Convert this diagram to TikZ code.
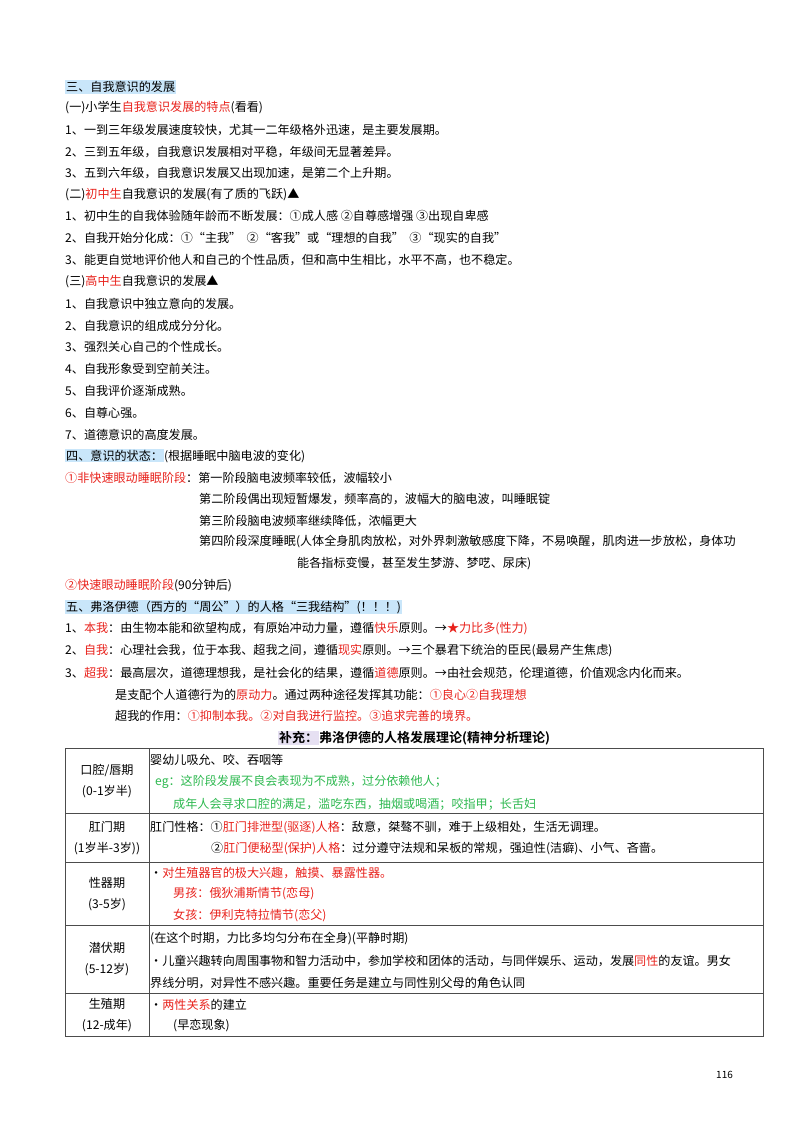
\documentclass[tikz,border=0pt]{standalone}
\usepackage{fontspec}
\setmainfont{Noto Sans CJK SC}
\newfontfamily\cjkb{Noto Sans CJK SC Bold}
\definecolor{hired}{HTML}{E8211B}
\definecolor{higreen}{HTML}{2DB84F}
\definecolor{hiblue}{HTML}{C9E6FA}
\definecolor{hipurple}{HTML}{E6E0F2}
\newcommand{\rd}[1]{\textcolor{hired}{#1}}
\newcommand{\hb}[1]{\colorbox{hiblue}{#1}}
\begin{document}
\begin{tikzpicture}[x=1pt,y=-1pt,
	txt/.style={anchor=west,inner sep=0pt,font=\fontsize{12.1}{13}\selectfont},
	cell/.style={anchor=center,inner sep=0pt,align=center,font=\fontsize{12.1}{21.5}\selectfont},
	rule/.style={draw=black!70,line width=0.8pt}]
	\useasboundingbox (0,0) rectangle (800,1130);
	\fboxsep=1pt
	% 三、自我意识的发展
	\node[txt] (h3) at (65,87) {\hb{三、自我意识的发展}};
	\node[txt] (a0) at (65,108) {(一)小学生\rd{自我意识发展的特点}(看看)};
	\node[txt] (a1) at (65,130) {1、一到三年级发展速度较快，尤其一二年级格外迅速，是主要发展期。};
	\node[txt] (a2) at (65,152) {2、三到五年级，自我意识发展相对平稳，年级间无显著差异。};
	\node[txt] (a3) at (65,173) {3、五到六年级，自我意识发展又出现加速，是第二个上升期。};
	\node[txt] (b0) at (65,195) {(二)\rd{初中生}自我意识的发展(有了质的飞跃)▲};
	\node[txt] (b1) at (65,216) {1、初中生的自我体验随年龄而不断发展：①成人感 ②自尊感增强 ③出现自卑感};
	\node[txt] (b2) at (65,238) {2、自我开始分化成：①“主我” \ ②“客我”或“理想的自我” \ ③“现实的自我”};
	\node[txt] (b3) at (65,260) {3、能更自觉地评价他人和自己的个性品质，但和高中生相比，水平不高，也不稳定。};
	\node[txt] (c0) at (65,282) {(三)\rd{高中生}自我意识的发展▲};
	\node[txt] (c1) at (65,304) {1、自我意识中独立意向的发展。};
	\node[txt] (c2) at (65,326) {2、自我意识的组成成分分化。};
	\node[txt] (c3) at (65,347) {3、强烈关心自己的个性成长。};
	\node[txt] (c4) at (65,369) {4、自我形象受到空前关注。};
	\node[txt] (c5) at (65,391) {5、自我评价逐渐成熟。};
	\node[txt] (c6) at (65,413) {6、自尊心强。};
	\node[txt] (c7) at (65,435) {7、道德意识的高度发展。};
	% 四、意识的状态
	\node[txt] (h4) at (65,456) {\hb{四、意识的状态：}(根据睡眠中脑电波的变化)};
	\node[txt] (d1) at (65,478) {\rd{①非快速眼动睡眠阶段}：第一阶段脑电波频率较低，波幅较小};
	\node[txt] (d2) at (199,499) {第二阶段偶出现短暂爆发，频率高的，波幅大的脑电波，叫睡眠锭};
	\node[txt] (d3) at (199,521) {第三阶段脑电波频率继续降低，浓幅更大};
	\node[txt] (d4) at (199,542) {第四阶段深度睡眠(人体全身肌肉放松，对外界刺激敏感度下降，不易唤醒，肌肉进一步放松，身体功};
	\node[txt] (d5) at (297,564) {能各指标变慢，甚至发生梦游、梦呓、尿床)};
	\node[txt] (d6) at (65,586) {\rd{②快速眼动睡眠阶段}(90分钟后)};
	% 五、三我结构
	\node[txt] (h5) at (65,607) {\hb{五、弗洛伊德（西方的“周公”）的人格“三我结构”(！！！)}};
	\node[txt] (e1) at (65,629) {1、\rd{本我}：由生物本能和欲望构成，有原始冲动力量，遵循\rd{快乐}原则。→\rd{★力比多(性力)}};
	\node[txt] (e2) at (65,651) {2、\rd{自我}：心理社会我，位于本我、超我之间，遵循\rd{现实}原则。→三个暴君下统治的臣民(最易产生焦虑)};
	\node[txt] (e3) at (65,673) {3、\rd{超我}：最高层次，道德理想我，是社会化的结果，遵循\rd{道德}原则。→由社会规范，伦理道德，价值观念内化而来。};
	\node[txt] (e4) at (115,695) {是支配个人道德行为的\rd{原动力}。通过两种途径发挥其功能：\rd{①良心②自我理想}};
	\node[txt] (e5) at (115,716) {超我的作用：\rd{①抑制本我。②对自我进行监控。③追求完善的境界。}};
	% 补充
	\node[txt,anchor=center,font=\cjkb\fontsize{13}{14}\selectfont] (title) at (414,738)
		{\colorbox{hipurple}{补充：}弗洛伊德的人格发展理论(精神分析理论)};
	% table
	\draw[rule] (65,748) rectangle (763,1036);
	\foreach \yy in {813,862,925,993} \draw[rule] (65,\yy) -- (763,\yy);
	\draw[rule] (149,748) -- (149,1036);
	\node[cell] (s1) at (107,781) {口腔/唇期\\(0-1岁半)};
	\node[cell] (s2) at (107,838) {肛门期\\(1岁半-3岁))};
	\node[cell] (s3) at (107,894) {性器期\\(3-5岁)};
	\node[cell] (s4) at (107,959) {潜伏期\\(5-12岁)};
	\node[cell] (s5) at (107,1015) {生殖期\\(12-成年)};
	\node[txt] (t11) at (150,760) {婴幼儿吸允、咬、吞咽等};
	\node[txt,text=higreen] (t12) at (155,782) {eg：这阶段发展不良会表现为不成熟，过分依赖他人；};
	\node[txt,text=higreen] (t13) at (173,804) {成年人会寻求口腔的满足，滥吃东西，抽烟或喝酒；咬指甲；长舌妇};
	\node[txt] (t21) at (150,828) {肛门性格：①\rd{肛门排泄型(驱逐)人格}：敌意，桀骜不驯，难于上级相处，生活无调理。};
	\node[txt] (t22) at (211,849) {②\rd{肛门便秘型(保护)人格}：过分遵守法规和呆板的常规，强迫性(洁癖)、小气、吝啬。};
	\node[txt] (t31) at (150,873) {·\rd{对生殖器官的极大兴趣，触摸、暴露性器。}};
	\node[txt] (t32) at (173,894) {\rd{男孩：俄狄浦斯情节(恋母)}};
	\node[txt] (t33) at (173,916) {\rd{女孩：伊利克特拉情节(恋父)}};
	\node[txt] (t41) at (150,939) {(在这个时期，力比多均匀分布在全身)(平静时期)};
	\node[txt] (t42) at (150,961) {·儿童兴趣转向周围事物和智力活动中，参加学校和团体的活动，与同伴娱乐、运动，发展\rd{同性}的友谊。男女};
	\node[txt] (t43) at (150,983) {界线分明，对异性不感兴趣。重要任务是建立与同性别父母的角色认同};
	\node[txt] (t51) at (150,1005) {·\rd{两性关系}的建立};
	\node[txt] (t52) at (173,1026) {(早恋现象)};
	\node[txt,font=\fontsize{10}{12}\selectfont] (pg) at (716,1075) {116};
\end{tikzpicture}
\end{document}
